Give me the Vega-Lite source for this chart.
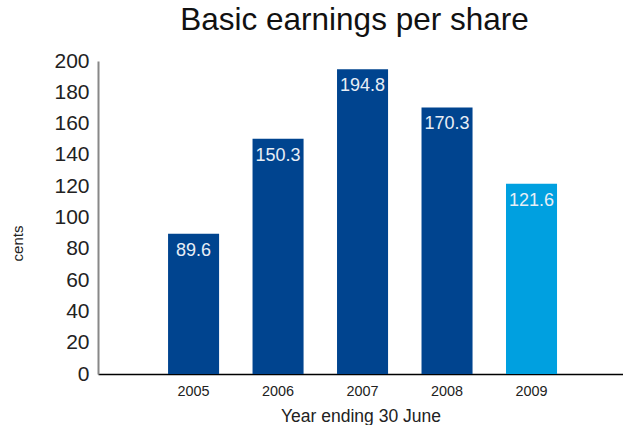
{
  "$schema": "https://vega.github.io/schema/vega-lite/v6.json",
  "width": 525,
  "height": 313,
  "autosize": "none",
  "padding": {"left": 98, "top": 61, "right": 0, "bottom": 51},
  "background": "white",
  "title": {
    "text": "Basic earnings per share",
    "fontSize": 31.5,
    "font": "Liberation Sans",
    "fontWeight": "normal",
    "color": "#111111",
    "anchor": "middle",
    "dx": -6,
    "offset": 14
  },
  "data": {
    "values": [
      {"year": "2005", "eps": 89.6, "group": "past"},
      {"year": "2006", "eps": 150.3, "group": "past"},
      {"year": "2007", "eps": 194.8, "group": "past"},
      {"year": "2008", "eps": 170.3, "group": "past"},
      {"year": "2009", "eps": 121.6, "group": "current"}
    ]
  },
  "config": {
    "view": {"stroke": null},
    "font": "Liberation Sans"
  },
  "encoding": {
    "x": {
      "field": "year",
      "type": "nominal",
      "scale": {"paddingInner": 0.396, "paddingOuter": 0.805, "align": 0.515},
      "axis": {
        "labelAngle": 0,
        "labelFontSize": 14.4,
        "labelColor": "#222222",
        "labelPadding": 10,
        "ticks": false,
        "domainColor": "#000000",
        "domainWidth": 1.5,
        "title": "Year ending 30 June",
        "titleFontSize": 17.5,
        "titleFontWeight": "normal",
        "titleColor": "#222222",
        "titlePadding": 10
      }
    },
    "y": {
      "field": "eps",
      "type": "quantitative",
      "scale": {"domain": [0, 200], "nice": false},
      "axis": {
        "values": [0, 20, 40, 60, 80, 100, 120, 140, 160, 180, 200],
        "grid": false,
        "ticks": false,
        "labelFontSize": 21,
        "labelColor": "#222222",
        "labelPadding": 9,
        "domainColor": "#888888",
        "domainWidth": 2,
        "title": "cents",
        "titleFontSize": 15,
        "titleFontWeight": "normal",
        "titleColor": "#222222",
        "titleX": -76,
        "titleY": 182,
        "titleAlign": "center",
        "titleBaseline": "alphabetic",
        "titleAngle": -90
      }
    }
  },
  "layer": [
    {
      "mark": {"type": "bar"},
      "encoding": {
        "color": {
          "field": "group",
          "type": "nominal",
          "scale": {"domain": ["past", "current"], "range": ["#00448f", "#00a0e0"]},
          "legend": null
        }
      }
    },
    {
      "mark": {"type": "text", "baseline": "alphabetic", "align": "center", "dy": 22, "fontSize": 18, "color": "#e8eef6"},
      "encoding": {
        "text": {"field": "eps", "type": "quantitative", "format": ".1f"}
      }
    }
  ]
}
